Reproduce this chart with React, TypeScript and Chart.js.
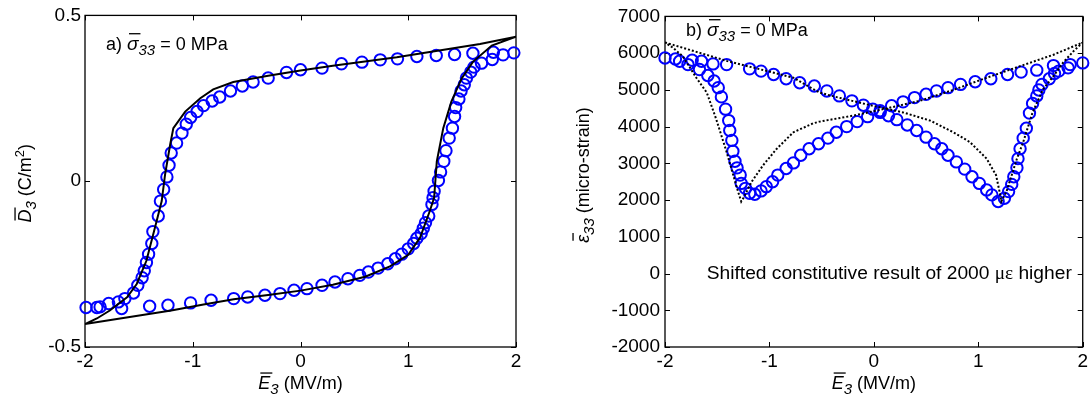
import React, { useEffect, useRef } from "react";
import { Chart, registerables } from "chart.js";

Chart.register(...registerables);

const FAMILY = "'Liberation Sans', Arial, Helvetica, sans-serif";
const SERIF = "'Liberation Serif', 'Times New Roman', serif";
const BLUE = "#0000ff";

// Axis ticks
const fieldTicks = [-2, -1, 0, 1, 2];
const displacementTicks = [-0.5, 0, 0.5];
const strainTicks = [-2000, -1000, 0, 1000, 2000, 3000, 4000, 5000, 6000, 7000];

// (a) measured D3 - E3 loop: rising branch, then falling branch
const measuredFieldA = [
  -1.99, -1.89, -1.66, -1.40, -1.23, -1.02, -0.83, -0.62, -0.49, -0.33, -0.19, -0.06, 0.06, 0.20, 0.32,
  0.44, 0.55, 0.63, 0.72, 0.81, 0.88, 0.94, 1.00, 1.05, 1.08, 1.12, 1.14, 1.16, 1.19, 1.22, 1.23, 1.24,
  1.28, 1.30, 1.33, 1.35, 1.38, 1.41, 1.43, 1.44, 1.47, 1.49, 1.52, 1.54, 1.58, 1.61, 1.68, 1.78, 1.88,
  1.98,
  1.79, 1.60, 1.43, 1.26, 1.08, 0.90, 0.74, 0.57, 0.38, 0.20, 0.00, -0.13, -0.30, -0.44, -0.54, -0.65,
  -0.75, -0.82, -0.90, -0.96, -1.02, -1.06, -1.10, -1.15, -1.20, -1.22, -1.24, -1.27, -1.30, -1.32, -1.37,
  -1.38, -1.41, -1.43, -1.45, -1.47, -1.51, -1.55, -1.63, -1.69, -1.78, -1.86,
];
const measuredDisplacement = [
  -0.381, -0.381, -0.384, -0.377, -0.374, -0.367, -0.359, -0.354, -0.349, -0.344, -0.339, -0.329, -0.324,
  -0.314, -0.304, -0.294, -0.284, -0.274, -0.262, -0.249, -0.234, -0.220, -0.204, -0.188, -0.172, -0.158,
  -0.142, -0.125, -0.105, -0.070, -0.050, -0.030, 0.002, 0.028, 0.060, 0.092, 0.130, 0.160, 0.195, 0.222,
  0.248, 0.272, 0.291, 0.311, 0.329, 0.344, 0.356, 0.367, 0.381, 0.387,
  0.389, 0.386, 0.382, 0.379, 0.376, 0.369, 0.366, 0.359, 0.354, 0.341, 0.336, 0.328, 0.311, 0.299, 0.287,
  0.272, 0.254, 0.242, 0.228, 0.210, 0.192, 0.172, 0.145, 0.115, 0.085, 0.048, 0.013, -0.025, -0.060,
  -0.105, -0.152, -0.188, -0.220, -0.245, -0.270, -0.291, -0.314, -0.337, -0.354, -0.364, -0.369, -0.379,
];

// (a) constitutive model loop
const modelFieldA = [
  -2, -1.6, -1.2, -0.9, -0.62, -0.3, 0, 0.3, 0.6, 0.83, 1.0, 1.11, 1.2, 1.24, 1.265, 1.325, 1.4, 1.496,
  1.6, 1.775, 2,
  1.666, 0.893, 0.3, 0, -0.3, -0.624, -0.81, -0.93, -1.07, -1.18, -1.21, -1.257, -1.288, -1.335, -1.43,
  -1.52, -1.61, -1.77, -1.89, -2,
];
const modelDisplacement = [
  -0.431, -0.41, -0.39, -0.372, -0.356, -0.343, -0.33, -0.312, -0.288, -0.257, -0.222, -0.17, -0.09,
  -0.05, 0.06, 0.16, 0.24, 0.31, 0.36, 0.409, 0.436,
  0.414, 0.374, 0.348, 0.334, 0.318, 0.299, 0.277, 0.25, 0.21, 0.16, 0.11, 0.02, -0.06, -0.12, -0.24,
  -0.31, -0.35, -0.39, -0.414, -0.431,
];

// (b) measured strain butterfly: rising field, then falling field
const measuredFieldB = [
  -2.0, -1.9, -1.74, -1.65, -1.54, -1.41, -1.19, -1.08, -0.96, -0.84, -0.71, -0.57, -0.45, -0.33, -0.21,
  -0.1, -0.01, 0.06, 0.14, 0.22, 0.32, 0.41, 0.5, 0.58, 0.65, 0.71, 0.79, 0.87, 0.94, 1.01, 1.08, 1.13,
  1.19, 1.25, 1.29, 1.32, 1.34, 1.37, 1.38, 1.4, 1.43, 1.46, 1.49, 1.52, 1.56, 1.58, 1.61, 1.68, 1.73,
  1.77, 1.86, 1.88, 2.0,
  1.72, 1.56, 1.41, 1.28, 1.12, 0.97, 0.83, 0.71, 0.6, 0.5, 0.39, 0.28, 0.17, 0.06, -0.06, -0.16, -0.26,
  -0.36, -0.44, -0.53, -0.62, -0.7, -0.77, -0.84, -0.92, -0.97, -1.03, -1.08, -1.14, -1.19, -1.23, -1.27,
  -1.28, -1.31, -1.33, -1.35, -1.36, -1.38, -1.39, -1.42, -1.46, -1.49, -1.53, -1.59, -1.67, -1.78, -1.86,
];
const measuredStrain = [
  5868, 5841, 5806, 5779, 5707, 5688, 5572, 5510, 5418, 5302, 5195, 5106, 4971, 4836, 4701, 4583, 4475,
  4386, 4297, 4189, 4045, 3893, 3713, 3532, 3397, 3219, 3039, 2842, 2635, 2454, 2276, 2141, 1960, 2050,
  2230, 2427, 2635, 2877, 3128, 3397, 3686, 3955, 4367, 4629, 4836, 4998, 5149, 5302, 5445, 5510, 5599,
  5688, 5734,
  5661, 5537, 5483, 5418, 5302, 5222, 5149, 5060, 4971, 4879, 4790, 4674, 4567, 4432, 4271, 4136, 4000,
  3847, 3686, 3532, 3397, 3219, 3012, 2858, 2680, 2500, 2365, 2249, 2158, 2185, 2319, 2454, 2680, 2877,
  3058, 3327, 3624, 3893, 4163, 4475, 4809, 5060, 5240, 5391, 5553, 5688, 5779,
];

// (b) constitutive model strain, shifted 2000 micro-strain up
const modelFieldB = [
  -2, -1.41, -0.77, -0.52, -0.34, -0.01, 0.28, 0.54, 0.76, 0.92, 1.08, 1.17, 1.21, 1.22, 1.27, 1.37, 1.43,
  1.52, 1.62, 1.72, 1.81, 1.91, 2,
  1.72, 1.4, 1.08, 0.76, 0.44, 0.12, -0.2, -0.52, -0.58, -0.77, -0.93, -1.06, -1.17, -1.25, -1.27, -1.31,
  -1.41, -1.51, -1.6, -1.7, -1.83, -1.92, -2,
];
const modelStrain = [
  6290, 5790, 5330, 4925, 4790, 4567, 4386, 4163, 3847, 3578, 3128, 2680, 2142, 1960, 2230, 3128, 3578,
  4386, 5014, 5375, 5734, 6049, 6290,
  5957, 5645, 5330, 4998, 4701, 4494, 4297, 4136, 4090, 3847, 3397, 2950, 2500, 2050, 1960, 2320, 3308,
  4206, 4925, 5330, 5914, 6138, 6290,
];

type Run = { text: string; size: number; italic?: boolean; dy?: number; bar?: boolean; family?: string };

const font = (size: number, italic?: boolean, family: string = FAMILY) =>
  `${italic ? "italic " : ""}${size}px ${family}`;

// Draws a line of mixed-style text (overbars, subscripts, superscripts).
function drawRich(
  ctx: CanvasRenderingContext2D,
  runs: Run[],
  x: number,
  y: number,
  align: "left" | "center",
  baseline: CanvasTextBaseline = "alphabetic"
) {
  const widths = runs.map((r) => {
    ctx.font = font(r.size, r.italic, r.family);
    return ctx.measureText(r.text).width;
  });
  const total = widths.reduce((a, b) => a + b, 0);
  let cx = align === "center" ? x - total / 2 : x;
  ctx.textAlign = "left";
  ctx.textBaseline = baseline;
  ctx.fillStyle = "#000";
  runs.forEach((r, i) => {
    ctx.font = font(r.size, r.italic, r.family);
    ctx.fillText(r.text, cx, y + (r.dy ?? 0));
    if (r.bar) {
      const top = y - r.size * 0.72 - 3;
      ctx.beginPath();
      ctx.lineWidth = 1.3;
      ctx.strokeStyle = "#000";
      ctx.moveTo(cx + 2, top);
      ctx.lineTo(cx + widths[i] + 2, top);
      ctx.stroke();
    }
    cx += widths[i];
  });
}

const fieldTitle: Run[] = [
  { text: "E", size: 18, italic: true, bar: true },
  { text: "3", size: 15, italic: true, dy: 5 },
  { text: " (MV/m)", size: 18 },
];

const stressNote = (tag: string): Run[] => [
  { text: tag + " ", size: 18 },
  { text: "σ", size: 19, italic: true, bar: true },
  { text: "33", size: 15, italic: true, dy: 5 },
  { text: " = 0 MPa", size: 18 },
];

type PanelSpec = {
  measuredX: number[];
  measuredY: number[];
  modelX: number[];
  modelY: number[];
  dashed: boolean;
  yMin: number;
  yMax: number;
  yTicks: number[];
  yAxisWidth: number;
  rightPad: number;
  tickPad: number;
  drawText: (chart: Chart, ctx: CanvasRenderingContext2D) => void;
};

const TICK_FONT = { family: FAMILY, size: 19 };

function buildChart(canvas: HTMLCanvasElement, spec: PanelSpec) {
  const frame = {
    id: "matlabFrame",
    beforeDatasetsDraw(chart: Chart) {
      const { ctx, chartArea: a } = chart;
      const xs = chart.scales.x;
      const ys = chart.scales.y;
      ctx.save();
      ctx.strokeStyle = "#000";
      ctx.lineWidth = 1.3;
      ctx.strokeRect(a.left, a.top, a.right - a.left, a.bottom - a.top);
      ctx.lineWidth = 1;
      ctx.beginPath();
      const len = 5;
      fieldTicks.forEach((v) => {
        const px = Math.round(xs.getPixelForValue(v)) + 0.5;
        ctx.moveTo(px, a.bottom);
        ctx.lineTo(px, a.bottom - len);
        ctx.moveTo(px, a.top);
        ctx.lineTo(px, a.top + len);
      });
      spec.yTicks.forEach((v) => {
        const py = Math.round(ys.getPixelForValue(v)) + 0.5;
        ctx.moveTo(a.left, py);
        ctx.lineTo(a.left + len, py);
        ctx.moveTo(a.right, py);
        ctx.lineTo(a.right - len, py);
      });
      ctx.stroke();
      ctx.restore();
    },
    afterDraw(chart: Chart) {
      const ctx = chart.ctx;
      ctx.save();
      spec.drawText(chart, ctx);
      ctx.restore();
    },
  };

  return new Chart(canvas, {
    type: "scatter",
    data: {
      datasets: [
        {
          label: "model",
          data: spec.modelX.map((x, i) => ({ x, y: spec.modelY[i] })),
          showLine: true,
          borderColor: "#000",
          borderWidth: 2,
          borderDash: spec.dashed ? [2, 2] : [],
          pointRadius: 0,
          tension: 0,
          fill: false,
          order: 0,
        },
        {
          label: "measured",
          data: spec.measuredX.map((x, i) => ({ x, y: spec.measuredY[i] })),
          showLine: false,
          pointStyle: "circle",
          pointRadius: 5.7,
          pointBorderWidth: 2,
          borderColor: BLUE,
          pointBorderColor: BLUE,
          backgroundColor: "rgba(0,0,0,0)",
          pointBackgroundColor: "rgba(0,0,0,0)",
          clip: false,
          order: 1,
        },
      ],
    },
    options: {
      animation: false,
      responsive: false,
      devicePixelRatio: 1,
      layout: { padding: { top: 13, right: spec.rightPad, bottom: 0, left: 0 } },
      plugins: { legend: { display: false }, tooltip: { enabled: false } },
      events: [],
      scales: {
        x: {
          type: "linear",
          min: -2,
          max: 2,
          afterBuildTicks: (s: any) => {
            s.ticks = fieldTicks.map((value) => ({ value }));
          },
          afterFit: (s: any) => {
            s.height = 55;
          },
          grid: { display: false, drawTicks: false },
          border: { display: false },
          ticks: {
            font: TICK_FONT,
            color: "#000",
            padding: 3,
            maxRotation: 0,
            autoSkip: false,
            callback: (v: any) => String(v),
          },
        },
        y: {
          type: "linear",
          min: spec.yMin,
          max: spec.yMax,
          afterBuildTicks: (s: any) => {
            s.ticks = spec.yTicks.map((value) => ({ value }));
          },
          afterFit: (s: any) => {
            s.width = spec.yAxisWidth;
          },
          grid: { display: false, drawTicks: false },
          border: { display: false },
          ticks: {
            font: TICK_FONT,
            color: "#000",
            padding: spec.tickPad,
            autoSkip: false,
            callback: (v: any) => String(v),
          },
        },
      },
    },
    plugins: [frame],
  });
}

const leftSpec: PanelSpec = {
  measuredX: measuredFieldA,
  measuredY: measuredDisplacement,
  modelX: modelFieldA,
  modelY: modelDisplacement,
  dashed: false,
  yMin: -0.5,
  yMax: 0.5,
  yTicks: displacementTicks,
  yAxisWidth: 85,
  rightPad: 29,
  tickPad: 4,
  drawText: (chart, ctx) => {
    const a = chart.chartArea;
    drawRich(ctx, stressNote("a)"), a.left + 21, a.top + 35, "left");
    drawRich(ctx, fieldTitle, (a.left + a.right) / 2, 389, "center");
    ctx.translate(31, (a.top + a.bottom) / 2 + 2);
    ctx.rotate(-Math.PI / 2);
    drawRich(
      ctx,
      [
        { text: "D", size: 18, italic: true, bar: true },
        { text: "3", size: 15, italic: true, dy: 5 },
        { text: " (C/m", size: 18 },
        { text: "2", size: 13, dy: -7 },
        { text: ")", size: 18 },
      ],
      0,
      0,
      "center"
    );
  },
};

const rightSpec: PanelSpec = {
  measuredX: measuredFieldB,
  measuredY: measuredStrain,
  modelX: modelFieldB,
  modelY: modelStrain,
  dashed: true,
  yMin: -2000,
  yMax: 7000,
  yTicks: strainTicks,
  yAxisWidth: 120,
  rightPad: 8,
  tickPad: 5,
  drawText: (chart, ctx) => {
    const a = chart.chartArea;
    const xs = chart.scales.x;
    const ys = chart.scales.y;
    drawRich(ctx, stressNote("b)"), a.left + 21, a.top + 20, "left");
    drawRich(
      ctx,
      [
        { text: "Shifted constitutive result of 2000 ", size: 19.2 },
        { text: "με", size: 19.2, family: SERIF },
        { text: " higher", size: 19.2 },
      ],
      xs.getPixelForValue(-1.6),
      ys.getPixelForValue(0),
      "left",
      "middle"
    );
    drawRich(ctx, fieldTitle, (a.left + a.right) / 2, 389, "center");
    ctx.translate(a.left - 76, 175);
    ctx.rotate(-Math.PI / 2);
    drawRich(
      ctx,
      [
        { text: "ε", size: 18, italic: true, bar: true },
        { text: "33", size: 15, italic: true, dy: 5 },
        { text: " (micro-strain)", size: 18 },
      ],
      0,
      0,
      "center"
    );
  },
};

function Panel({ spec, left, width }: { spec: PanelSpec; left: number; width: number }) {
  const ref = useRef<HTMLCanvasElement | null>(null);
  useEffect(() => {
    if (!ref.current) return;
    const chart = buildChart(ref.current, spec);
    return () => chart.destroy();
  }, [spec]);
  return (
    <canvas
      ref={ref}
      width={width}
      height={402}
      style={{ position: "absolute", left, top: 0, width, height: 402 }}
    />
  );
}

export default function App() {
  return (
    <div
      style={{
        position: "fixed",
        left: 0,
        top: 0,
        width: 1091,
        height: 402,
        background: "#fff",
        overflow: "hidden",
      }}
    >
      <Panel spec={leftSpec} left={0} width={545} />
      <Panel spec={rightSpec} left={545} width={546} />
    </div>
  );
}
